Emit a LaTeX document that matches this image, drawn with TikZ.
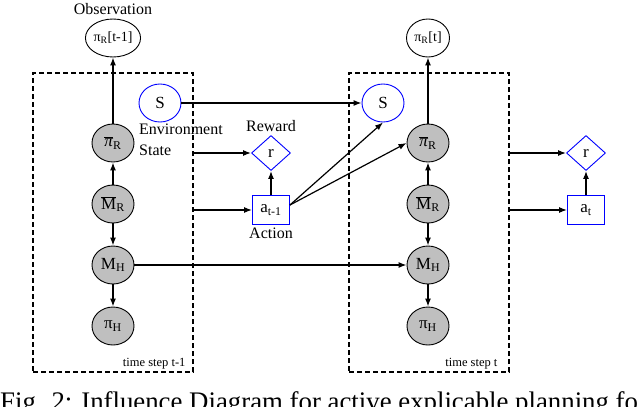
\documentclass[tikz,border=0pt]{standalone}
\usepackage{fontspec}
\setmainfont{Liberation Serif}
\usepackage{tikz}
\usetikzlibrary{arrows.meta,shapes.geometric}

\begin{document}
\begin{tikzpicture}[x=1pt, y=-1pt, node distance=61pt,
        main/.style = {draw, ellipse, line width=0.9pt, minimum width=42pt, minimum height=38pt, inner sep=0pt, font=\fontsize{17}{20}\selectfont},
        obs/.style = {main, minimum width=43pt, font=\fontsize{14}{17}\selectfont},
        hid/.style = {main, fill=gray!50},
        env/.style = {main, draw=blue},
        rew/.style = {draw=blue, diamond, line width=0.9pt, minimum width=39pt, minimum height=35pt, inner sep=0pt, font=\fontsize{17}{20}\selectfont},
        act/.style = {draw=blue, rectangle, line width=0.9pt, minimum width=37pt, minimum height=29pt, inner sep=0pt, font=\fontsize{17}{20}\selectfont},
        frame/.style = {draw, dash pattern=on 5pt off 3pt, line width=1.3pt, minimum width=160pt, minimum height=299pt, inner sep=0pt},
        lbl/.style = {font=\fontsize{16}{21}\selectfont},
        tstep/.style = {anchor=base east, inner sep=0pt, font=\fontsize{12.5}{15}\selectfont},
        arr/.style = {-{Latex[length=8pt,width=6pt]}, line width=1.2pt}]
    \useasboundingbox (0,0) rectangle (640,407);

    % time step t-1
    \node[frame] (T1) at (113,222.5) {};
    \node[hid] (Pr1) at (113,143) {\(\overline{\mbox{\textit{π}}}\)\textsubscript{R}};
    \node[hid] (Mr1) [below of=Pr1] {\(\overline{\mbox{M}}\)\textsubscript{R}};
    \node[hid] (Mh1) [below of=Mr1] {M\textsubscript{H}};
    \node[hid] (Ph1) [below of=Mh1] {π\textsubscript{H}};
    \node[obs] (Ob1) [above of=Pr1, node distance=105pt, label={[lbl]above:Observation}] {π\textsubscript{R}[t-1]};
    \node[env] (S1) at (160,103) {S};
    \node[lbl, anchor=north west, align=left, inner sep=0pt] (E1) at (139,124) {Environment\\State};
    \node[rew] (R1) at (271,153) [label={[lbl]above:Reward}] {r};
    \node[act] (A1) at (271,210) [label={[lbl, inner sep=3pt]below:Action}] {a\textsubscript{t-1}};
    \node[tstep] (L1) at ([xshift=-8pt, yshift=6pt]T1.south east) {time step t-1};

    % time step t
    \node[frame] (T2) [right of=T1, node distance=316pt] {};
    \node[hid] (Pr2) [right of=Pr1, node distance=315pt] {\(\overline{\mbox{\textit{π}}}\)\textsubscript{R}};
    \node[hid] (Mr2) [below of=Pr2] {\(\overline{\mbox{M}}\)\textsubscript{R}};
    \node[hid] (Mh2) [below of=Mr2] {M\textsubscript{H}};
    \node[hid] (Ph2) [below of=Mh2] {π\textsubscript{H}};
    \node[obs] (Ob2) [above of=Pr2, node distance=105pt] {π\textsubscript{R}[t]};
    \node[env] (S2) [right of=S1, node distance=223pt] {S};
    \node[rew] (R2) [right of=R1, node distance=315pt] {r};
    \node[act] (A2) [right of=A1, node distance=315pt] {a\textsubscript{t}};
    \node[tstep] (L2) at ([xshift=-12pt, yshift=6pt]T2.south east) {time step t};

    \path[arr] (Pr1) edge (Ob1);
    \path[arr] (Mr1) edge (Pr1);
    \path[arr] (Mr1) edge (Mh1);
    \path[arr] (Mh1) edge (Ph1);
    \path[arr] (Pr2) edge (Ob2);
    \path[arr] (Mr2) edge (Pr2);
    \path[arr] (Mr2) edge (Mh2);
    \path[arr] (Mh2) edge (Ph2);

    \path[arr] (S1) edge (S2);
    \path[arr] (Mh1) edge (Mh2);
    \path[arr] (T1.east |- R1) edge (R1);
    \path[arr] (T1.east |- A1) edge (A1);
    \path[arr] (A1) edge (R1);
    \path[arr] ([yshift=5pt]A1.east) edge (S2.south);
    \path[arr] ([yshift=5pt]A1.east) edge (Pr2.west);
    \path[arr] (T2.east |- R2) edge (R2);
    \path[arr] (T2.east |- A2) edge (A2);
    \path[arr] (A2) edge (R2);

    \node[anchor=base west, inner sep=0pt, font=\fontsize{26.8}{30}\selectfont] (cap) at (0,410) {Fig. 2: Influence Diagram for active explicable planning fo};
\end{tikzpicture}
\end{document}
